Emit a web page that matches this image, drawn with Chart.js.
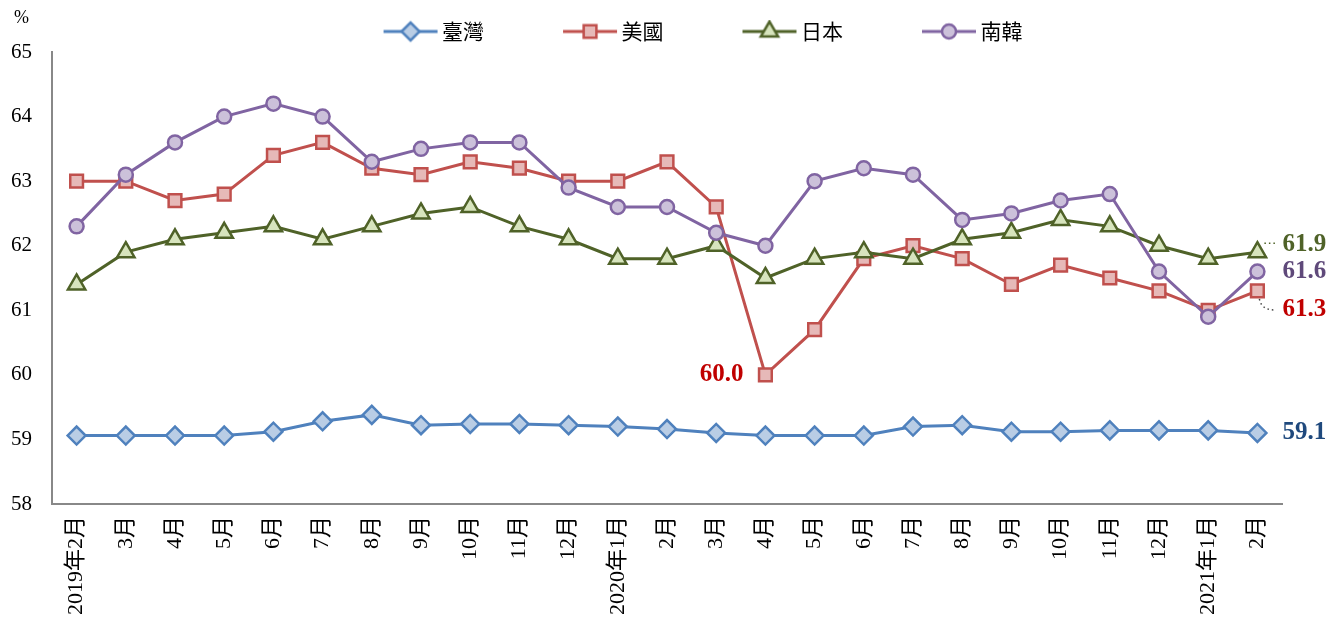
<!DOCTYPE html>
<html>
<head>
<meta charset="utf-8">
<script src="https://cdn.jsdelivr.net/npm/chart.js@4.4.1/dist/chart.umd.min.js"></script>
<style>
  html, body { margin: 0; padding: 0; background: #fff; }
  #wrap { width: 1329px; height: 623px; }
</style>
</head>
<body>
<div id="wrap"><canvas id="myChart"></canvas></div>
<script>
// catégories (mois)
const mois = ['2019年2月','3月','4月','5月','6月','7月','8月','9月','10月','11月','12月',
  '2020年1月','2月','3月','4月','5月','6月','7月','8月','9月','10月','11月','12月',
  '2021年1月','2月'];

// séries (%)
const taiwan = [59.06,59.06,59.06,59.06,59.12,59.28,59.38,59.22,59.24,59.24,59.22,59.2,59.16,
  59.1,59.06,59.06,59.06,59.2,59.22,59.12,59.12,59.14,59.14,59.14,59.1];
const usa = [63.0,63.0,62.7,62.8,63.4,63.6,63.2,63.1,63.3,63.2,63.0,63.0,63.3,
  62.6,60.0,60.7,61.8,62.0,61.8,61.4,61.7,61.5,61.3,61.0,61.3];
const japon = [61.4,61.9,62.1,62.2,62.3,62.1,62.3,62.5,62.6,62.3,62.1,61.8,61.8,
  62.0,61.5,61.8,61.9,61.8,62.1,62.2,62.4,62.3,62.0,61.8,61.9];
const coree = [62.3,63.1,63.6,64.0,64.2,64.0,63.3,63.5,63.6,63.6,62.9,62.6,62.6,
  62.2,62.0,63.0,63.2,63.1,62.4,62.5,62.7,62.8,61.6,60.9,61.6];

// axe des ordonnées
const yMin = 58;
const yMax = 65;

const noms = ['臺灣', '美國', '日本', '南韓'];
const series = [taiwan, usa, japon, coree];
const styles = [
  { line: '#4F81BD', fill: '#B9CDE5', point: 'rectRot', radius: 9 },
  { line: '#C0504D', fill: '#E6B9B8', point: 'rect', radius: 9 },
  { line: '#4F6228', fill: '#D7E4BD', point: 'triangle', radius: 10 },
  { line: '#8064A2', fill: '#CCC1DA', point: 'circle', radius: 7 }
];
// étiquettes de fin de série
const etiquettes = [
  { serie: 0, index: 24, texte: '59.1', couleur: '#1F497D' },
  { serie: 1, index: 24, texte: '61.3', couleur: '#C00000' },
  { serie: 2, index: 24, texte: '61.9', couleur: '#4F6228' },
  { serie: 3, index: 24, texte: '61.6', couleur: '#5F497A' },
  { serie: 1, index: 14, texte: '60.0', couleur: '#C00000' }
];

// icône de légende : ligne + marqueur (le canvas déborde un peu de la boîte)
function makeIcon(s) {
  const c = document.createElement('canvas');
  c.width = 136;
  c.height = 24;
  const ctx = c.getContext('2d');
  ctx.strokeStyle = s.line;
  ctx.lineWidth = 3;
  ctx.beginPath();
  ctx.moveTo(80, 12);
  ctx.lineTo(134, 12);
  ctx.stroke();
  ctx.fillStyle = s.fill;
  ctx.lineWidth = 2.5;
  Chart.helpers.drawPoint(ctx, { pointStyle: s.point, radius: s.radius, rotation: 0, borderWidth: 2.5 }, 107, 12);
  return c;
}

const datasets = series.map((d, i) => ({
  label: noms[i],
  data: d,
  borderColor: styles[i].line,
  backgroundColor: styles[i].fill,
  borderWidth: 3,
  pointStyle: styles[i].point,
  pointRadius: styles[i].radius,
  pointBorderWidth: 2.5,
  pointBackgroundColor: styles[i].fill,
  pointBorderColor: styles[i].line,
  tension: 0,
  order: 3 - i
}));

const extras = {
  id: 'extras',
  afterDraw(chart) {
    const ctx = chart.ctx;
    ctx.save();
    // symbole %
    ctx.fillStyle = '#000';
    ctx.font = "18px 'Liberation Serif'";
    ctx.textAlign = 'left';
    ctx.textBaseline = 'middle';
    ctx.fillText('%', 14, 18);

    ctx.font = "bold 25px 'Liberation Serif'";
    etiquettes.forEach(e => {
      const p = chart.getDatasetMeta(e.serie).data[e.index];
      ctx.fillStyle = e.couleur;
      if (e.index === 14) {
        ctx.textAlign = 'right';
        ctx.fillText(e.texte, p.x - 22, p.y);
      } else {
        ctx.textAlign = 'left';
        let dy = 0;
        if (e.serie === 1) dy = 19;
        if (e.serie === 2) dy = -8;
        ctx.fillText(e.texte, p.x + 25, p.y + dy);
      }
    });

    // petits traits pointillés
    ctx.setLineDash([1.5, 3]);
    ctx.lineWidth = 1.5;
    const pj = chart.getDatasetMeta(2).data[24];
    ctx.strokeStyle = '#4F6228';
    ctx.beginPath();
    ctx.moveTo(pj.x + 7, pj.y - 9);
    ctx.lineTo(pj.x + 19, pj.y - 9);
    ctx.stroke();
    const pu = chart.getDatasetMeta(1).data[24];
    ctx.strokeStyle = '#444';
    ctx.beginPath();
    ctx.moveTo(pu.x + 2, pu.y + 8);
    ctx.quadraticCurveTo(pu.x + 4, pu.y + 19, pu.x + 17, pu.y + 19);
    ctx.stroke();
    ctx.restore();
  }
};

const ctx = document.getElementById('myChart').getContext('2d');
new Chart(ctx, {
  type: 'line',
  data: { labels: mois, datasets: datasets },
  options: {
    responsive: true,
    maintainAspectRatio: false,
    animation: false,
    layout: { padding: { top: 14, left: 12, right: 47, bottom: -4 } },
    plugins: {
      legend: {
        position: 'top',
        fullSize: false,
        labels: {
          usePointStyle: true,
          pointStyleWidth: 120,
          padding: 7,
          color: '#000',
          font: { family: "'Noto Sans CJK TC'", size: 21 },
          generateLabels: () => noms.map((n, i) => ({
            text: n,
            pointStyle: makeIcon(styles[i]),
            fillStyle: styles[i].fill,
            strokeStyle: styles[i].line,
            fontColor: '#000',
            hidden: false,
            datasetIndex: i
          }))
        }
      },
      tooltip: { enabled: false }
    },
    scales: {
      x: {
        offset: true,
        grid: { display: false, drawTicks: false },
        border: { display: true, color: '#888', width: 2 },
        ticks: {
          autoSkip: false,
          minRotation: 90,
          maxRotation: 90,
          padding: 12,
          color: '#000',
          font: { family: "'Liberation Serif', 'Noto Sans CJK TC'", size: 22 }
        }
      },
      y: {
        min: yMin,
        max: yMax,
        grid: { display: false, drawTicks: false },
        border: { display: true, color: '#888', width: 2 },
        afterFit: (scale) => { scale.width = 40; },
        ticks: {
          stepSize: 1,
          padding: 20,
          color: '#000',
          font: { family: "'Liberation Serif'", size: 21 }
        }
      }
    }
  },
  plugins: [extras]
});
</script>
</body>
</html>
